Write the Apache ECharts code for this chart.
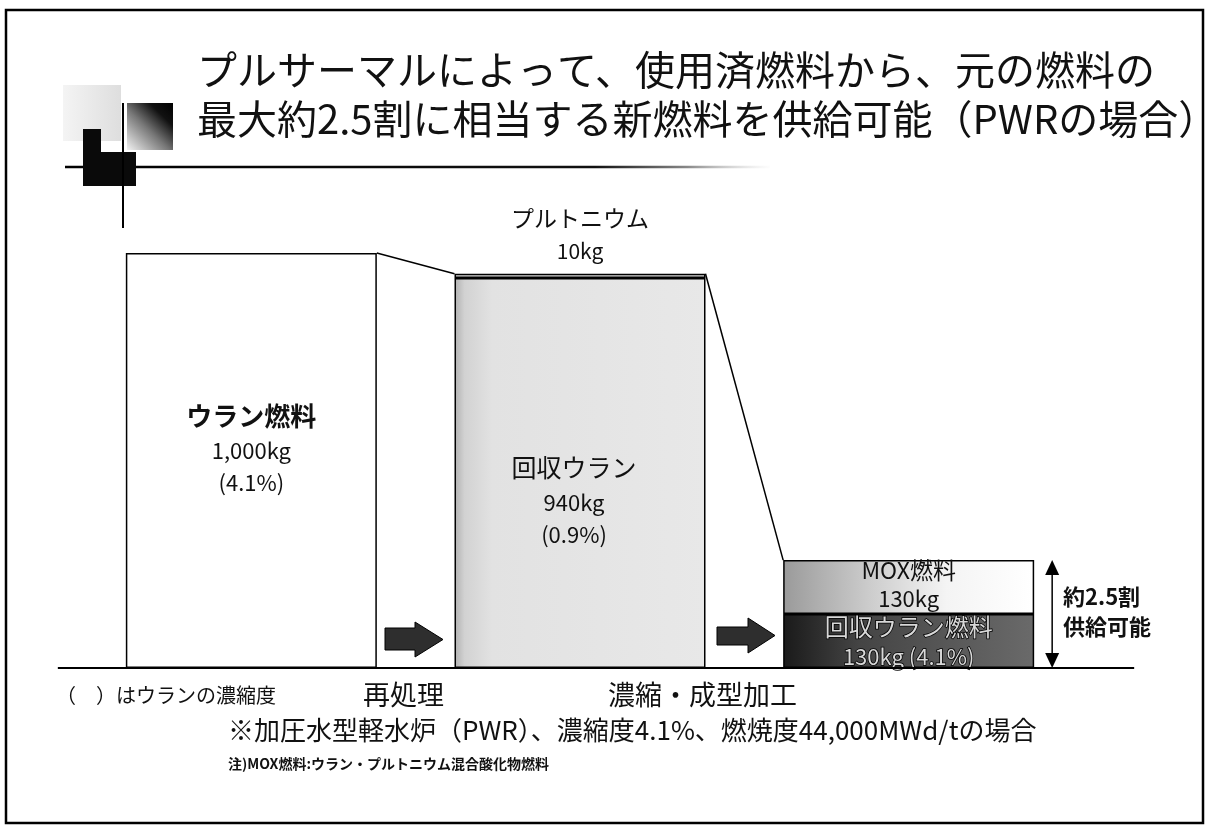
<!DOCTYPE html>
<html>
<head>
<meta charset="utf-8">
<script src="https://cdn.jsdelivr.net/npm/echarts@6/dist/echarts.min.js"></script>
<style>
html,body{margin:0;padding:0;background:#fff;}
#main{width:1209px;height:835px;}
</style>
</head>
<body>
<div id="main"></div>
<script>
// ---- data ----
const categories = ['ウラン燃料', '再処理後', '濃縮・成型加工後'];
const baseNames = ['ウラン燃料', '回収ウラン', '回収ウラン燃料'];
const baseValues = [1000, 940, 130];
const baseEnrichment = ['4.1%', '0.9%', '4.1%'];
const topNames = ['', 'プルトニウム', 'MOX燃料'];
const topValues = ['-', 10, 130];
const titleLines = ['プルサーマルによって、使用済燃料から、元の燃料の', '最大約2.5割に相当する新燃料を供給可能（PWRの場合）'];
const processLabels = ['再処理', '濃縮・成型加工'];
const supplyLabel = ['約2.5割', '供給可能'];
const noteEnrich = '（　）はウランの濃縮度';
const footnote1 = '※加圧水型軽水炉（PWR）、濃縮度4.1%、燃焼度44,000MWd/tの場合';
const footnote2 = '注)MOX燃料:ウラン・プルトニウム混合酸化物燃料';

const FONT = '"Noto Sans CJK JP", "Noto Sans", sans-serif';
const BAR_W = 251;
const totals = baseValues.map((v, i) => v + (typeof topValues[i] === 'number' ? topValues[i] : 0));
const kg = v => v.toLocaleString('en-US') + 'kg';

const grad = (stops) => ({
  type: 'linear', x: 0, y: 0, x2: 1, y2: 0,
  colorStops: stops.map(s => ({offset: s[0], color: s[1]}))
});

const baseStyles = [
  {color: '#ffffff'},
  {color: grad([[0, '#b0b0b0'], [0.04, '#d2d2d2'], [0.15, '#e2e2e2'], [1, '#e8e8e8']])},
  {color: grad([[0, '#1a1a1a'], [0.3, '#444444'], [1, '#6a6a6a']])}
];
const baseLabels = [
  {offset: [0, -12], rich: {n: {fontSize: 26, fontWeight: 'bold', lineHeight: 36, fontFamily: FONT, color: '#111'}, v: {fontSize: 22, lineHeight: 32, fontFamily: FONT, color: '#111'}},
   text: (i) => `{n|${baseNames[i]}}\n{v|${kg(baseValues[i])}}\n{v|(${baseEnrichment[i]})}`},
  {offset: [-6, 27], rich: {n: {fontSize: 25, lineHeight: 38, fontFamily: FONT, color: '#111'}, v: {fontSize: 22, lineHeight: 32, fontFamily: FONT, color: '#111'}},
   text: (i) => `{n|${baseNames[i]}}\n{v|${kg(baseValues[i])}}\n{v|(${baseEnrichment[i]})}`},
  {offset: [0, 0], rich: {n: {fontSize: 24, lineHeight: 31, fontFamily: FONT, color: '#d8d8d8', textBorderColor: '#000', textBorderWidth: 1.5}, v: {fontSize: 22, lineHeight: 29, fontFamily: FONT, color: '#d8d8d8', textBorderColor: '#000', textBorderWidth: 1.5}},
   text: (i) => `{n|${baseNames[i]}}\n{v|${kg(baseValues[i])} (${baseEnrichment[i]})}`}
];

const baseData = baseValues.map((v, i) => ({
  value: v,
  itemStyle: Object.assign({borderColor: '#000', borderWidth: 1.5}, baseStyles[i]),
  label: {show: true, position: 'inside', offset: baseLabels[i].offset, rich: baseLabels[i].rich, formatter: baseLabels[i].text(i)}
}));

const topData = topValues.map((v, i) => {
  if (i === 1) {
    return {
      value: v,
      itemStyle: {color: '#d8d8d8', borderColor: '#000', borderWidth: 1.5},
      label: {show: true, position: 'top', distance: 8,
        formatter: `{p|${topNames[i]}}\n{v|${kg(v)}}`,
        rich: {p: {fontSize: 23, lineHeight: 34, fontFamily: FONT, color: '#111'}, v: {fontSize: 21, lineHeight: 30, fontFamily: FONT, color: '#111'}}}
    };
  }
  if (i === 2) {
    return {
      value: v,
      itemStyle: {color: grad([[0, '#9a9a9a'], [0.35, '#cdcdcd'], [0.65, '#f4f4f4'], [1, '#ffffff']]), borderColor: '#000', borderWidth: 1.5},
      label: {show: true, position: 'inside', offset: [0, -3],
        formatter: `{p|${topNames[i]}}\n{v|${kg(v)}}`,
        rich: {p: {fontSize: 23, lineHeight: 30, fontFamily: FONT, color: '#111'}, v: {fontSize: 22, lineHeight: 28, fontFamily: FONT, color: '#111'}}}
    };
  }
  return v;
});

const chart = echarts.init(document.getElementById('main'));

function arrowShape(x0, xm, x1, yTop, yBot, bodyTop, bodyBot) {
  return [[x0, bodyTop], [xm, bodyTop], [xm, yTop], [x1, (yTop + yBot) / 2], [xm, yBot], [xm, bodyBot], [x0, bodyBot]];
}

chart.setOption({
  animation: false,
  backgroundColor: '#fff',
  title: {
    text: titleLines.join('\n'),
    left: 197, top: 45, padding: 0,
    textStyle: {fontSize: 40, fontWeight: 'normal', lineHeight: 49, fontFamily: FONT, color: '#111'}
  },
  grid: {left: 87, right: 136, top: 253, bottom: 167},
  xAxis: {type: 'category', data: categories, show: false},
  yAxis: {type: 'value', min: 0, max: 1000, show: false},
  series: [
    {name: '下段', type: 'bar', stack: 'fuel', barWidth: BAR_W, data: baseData, z: 2},
    {name: '上段', type: 'bar', stack: 'fuel', barWidth: BAR_W, data: topData, z: 2},
    {
      name: 'connect', type: 'custom', silent: true, z: 4, clip: false,
      data: categories.map((c, i) => [i, totals[i]]),
      renderItem: function (params, api) {
        const i = params.dataIndex;
        const half = BAR_W / 2;
        const top = api.coord([api.value(0), api.value(1)]);
        const baseY = api.coord([i, 0])[1];
        const children = [];
        if (i < categories.length - 1) {
          const next = api.coord([i + 1, totals[i + 1]]);
          children.push({type: 'line', shape: {x1: top[0] + half, y1: top[1], x2: next[0] - half, y2: next[1]},
            style: {stroke: '#000', lineWidth: 1.5}});
        }
        if (i === 0) {
          const last = api.coord([categories.length - 1, 0]);
          children.push({type: 'line', shape: {x1: top[0] - half - 68, y1: baseY, x2: last[0] + half + 100, y2: baseY},
            style: {stroke: '#000', lineWidth: 2}});
        }
        if (i === categories.length - 1) {
          const ax = top[0] + half + 18;
          children.push({type: 'line', shape: {x1: ax, y1: top[1] + 12, x2: ax, y2: baseY - 12}, style: {stroke: '#000', lineWidth: 1.5}});
          children.push({type: 'polygon', shape: {points: [[ax, top[1]], [ax - 7, top[1] + 15], [ax + 7, top[1] + 15]]}, style: {fill: '#000'}});
          children.push({type: 'polygon', shape: {points: [[ax, baseY], [ax - 7, baseY - 15], [ax + 7, baseY - 15]]}, style: {fill: '#000'}});
        }
        return {type: 'group', children: children};
      }
    }
  ],
  graphic: [
    // page frame
    {type: 'rect', shape: {x: 6, y: 10, width: 1197, height: 813}, style: {fill: 'none', stroke: '#000', lineWidth: 2.5}, z: 10},
    // title underline
    {type: 'line', shape: {x1: 65, y1: 167, x2: 770, y2: 167},
      style: {stroke: grad([[0, '#000'], [0.75, '#111'], [0.88, '#888'], [1, 'rgba(200,200,200,0)']]), lineWidth: 2.5}},
    // decoration
    {type: 'rect', shape: {x: 63, y: 85, width: 58, height: 56}, style: {fill: grad([[0, '#f4f4f4'], [1, '#dedede']])}},
    {type: 'rect', shape: {x: 127, y: 103, width: 46, height: 47},
      style: {fill: {type: 'linear', x: 0, y: 1, x2: 1, y2: 0, colorStops: [{offset: 0, color: '#f2f2f2'}, {offset: 0.45, color: '#777'}, {offset: 0.75, color: '#111'}, {offset: 1, color: '#000'}]}}},
    {type: 'rect', shape: {x: 83, y: 129, width: 18, height: 57}, style: {fill: '#0a0a0a'}},
    {type: 'rect', shape: {x: 83, y: 152, width: 53, height: 34}, style: {fill: '#0a0a0a'}},
    {type: 'line', shape: {x1: 123, y1: 103, x2: 123, y2: 228}, style: {stroke: '#000', lineWidth: 2}},
    // process arrows
    {type: 'polygon', shape: {points: arrowShape(385, 415, 443, 622, 657, 628, 650)}, style: {fill: '#2e2e2e', stroke: '#000', lineWidth: 1}},
    {type: 'polygon', shape: {points: arrowShape(717, 748, 775, 618, 653, 627, 645)}, style: {fill: '#2e2e2e', stroke: '#000', lineWidth: 1}},
    // texts
    {type: 'text', x: 1063, y: 597, style: {text: supplyLabel[0], font: 'bold 22px ' + FONT, fill: '#111', verticalAlign: 'middle'}},
    {type: 'text', x: 1063, y: 627, style: {text: supplyLabel[1], font: 'bold 22px ' + FONT, fill: '#111', verticalAlign: 'middle'}},
    {type: 'text', x: 56, y: 695, style: {text: noteEnrich, font: '20px ' + FONT, fill: '#111', verticalAlign: 'middle'}},
    {type: 'text', x: 363, y: 695, style: {text: processLabels[0], font: '27px ' + FONT, fill: '#111', verticalAlign: 'middle'}},
    {type: 'text', x: 608, y: 695, style: {text: processLabels[1], font: '27px ' + FONT, fill: '#111', verticalAlign: 'middle'}},
    {type: 'text', x: 228, y: 730, style: {text: footnote1, font: '26px ' + FONT, fill: '#111', verticalAlign: 'middle'}},
    {type: 'text', x: 228, y: 764, style: {text: footnote2, font: 'bold 14px ' + FONT, fill: '#111', verticalAlign: 'middle'}}
  ]
});
</script>
</body>
</html>
